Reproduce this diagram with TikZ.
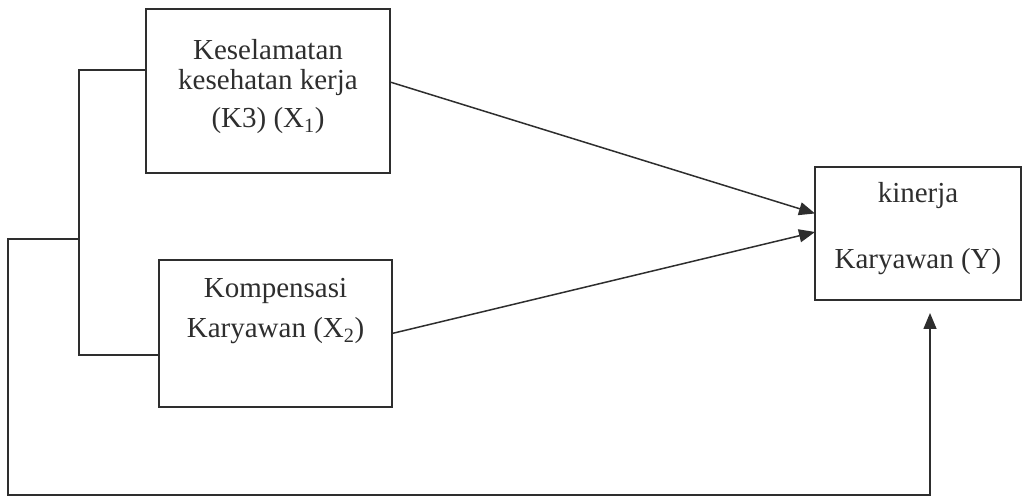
\documentclass[tikz,border=0pt]{standalone}
\usepackage{fontspec}
\setmainfont{Liberation Serif}
\usetikzlibrary{arrows.meta,calc}
\definecolor{ink}{HTML}{2E2E2E}
\begin{document}
\begin{tikzpicture}[x=1pt,y=-1pt,
  box/.style={draw=ink,line width=1.6pt,rectangle,inner sep=0pt,outer sep=0pt},
  txt/.style={text=ink,inner sep=0pt,anchor=base,font=\fontsize{29}{35}\selectfont},
  conn/.style={draw=ink,line width=1.5pt},
  arr/.style={conn,-{Triangle[length=16pt,width=13pt]}}]
\useasboundingbox (0,0) rectangle (1025,502);
% boxes
\node[box,minimum width=244pt,minimum height=164pt] (b1) at (268,91) {};
\node[box,minimum width=233pt,minimum height=147pt] (b2) at (275.5,333.5) {};
\node[box,minimum width=206pt,minimum height=133pt] (b3) at (918,233.5) {};
% texts
\node[txt] (t1a) at (268,60) {Keselamatan};
\node[txt] (t1b) at (268,90) {kesehatan kerja};
\node[txt] (t1c) at (268,128) {(K3) (X\textsubscript{1})};
\node[txt] (t2a) at (275.5,298) {Kompensasi};
\node[txt] (t2b) at (275.5,338) {Karyawan (X\textsubscript{2})};
\node[txt] (t3a) at (918,203) {kinerja};
\node[txt] (t3b) at (918,269) {Karyawan (Y)};
% coordinates
\coordinate (j) at (79,239);
\coordinate (bl) at (8,495);
% connectors
\draw[arr] ([yshift=9pt]b1.east) -- ([yshift=20pt]b3.west);
\draw[arr] (b2.east) -- ([yshift=1.5pt]b3.west);
\draw[conn] ([yshift=21pt]b1.west) -| (j) |- ([yshift=-21.5pt]b2.west);
\draw[arr,shorten >=13pt] (j) -| (bl) -| ([xshift=12pt]b3.south);
\end{tikzpicture}
\end{document}
